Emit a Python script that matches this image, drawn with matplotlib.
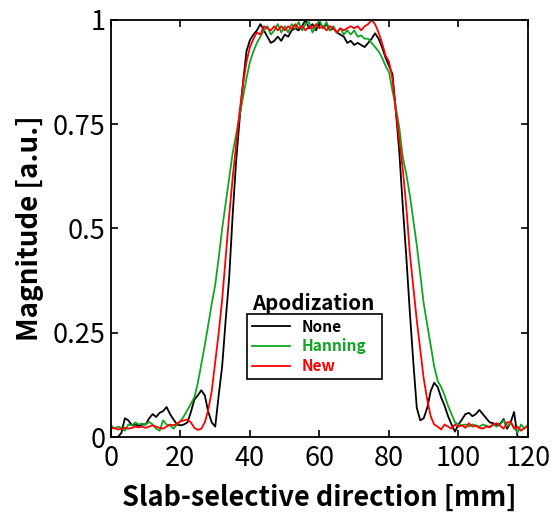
import numpy as np
import matplotlib
matplotlib.use('Agg')
import matplotlib.pyplot as plt

plt.rcParams['font.family'] = ['Noto Sans CJK KR', 'DejaVu Sans']

# --- データ (1 mm 刻み) ------------------------------------------------
position_mm = list(range(0, 121))

none_mag = [
    0.00, 0.00, 0.00, 0.01, 0.045, 0.04, 0.028, 0.03, 0.027, 0.03,
    0.03, 0.045, 0.055, 0.048, 0.058, 0.062, 0.072, 0.055, 0.042, 0.03,
    0.028, 0.03, 0.035, 0.06, 0.09, 0.10, 0.112, 0.10, 0.06, 0.035,
    0.025, 0.10, 0.17, 0.28, 0.38, 0.53, 0.66, 0.76, 0.85, 0.925,
    0.952, 0.965, 0.975, 0.99, 0.975, 0.96, 0.945, 0.95, 0.96, 0.95,
    0.965, 0.96, 0.975, 0.98, 0.975, 0.985, 1.00, 0.98, 0.99, 0.975,
    0.995, 0.98, 0.99, 0.975, 0.98, 0.97, 0.965, 0.96, 0.945, 0.95,
    0.94, 0.945, 0.94, 0.935, 0.945, 0.955, 0.968, 0.955, 0.935, 0.91,
    0.89, 0.87, 0.78, 0.68, 0.55, 0.43, 0.30, 0.18, 0.07, 0.04,
    0.045, 0.07, 0.11, 0.13, 0.12, 0.095, 0.075, 0.05, 0.03, 0.013,
    0.03, 0.042, 0.055, 0.058, 0.05, 0.055, 0.065, 0.055, 0.045, 0.035,
    0.033, 0.028, 0.032, 0.043, 0.02, 0.035, 0.06, 0.00, 0.00, 0.00,
    0.00,
]

hanning_mag = [
    0.028, 0.02, 0.025, 0.022, 0.015, 0.03, 0.028, 0.035, 0.03, 0.032,
    0.03, 0.036, 0.03, 0.02, 0.015, 0.04, 0.03, 0.028, 0.02, 0.03,
    0.038, 0.05, 0.065, 0.08, 0.095, 0.13, 0.175, 0.22, 0.27, 0.32,
    0.365, 0.43, 0.50, 0.56, 0.62, 0.68, 0.725, 0.77, 0.815, 0.86,
    0.90, 0.925, 0.945, 0.96, 0.975, 0.985, 0.965, 0.975, 0.99, 0.97,
    0.985, 0.97, 0.99, 0.98, 0.995, 0.975, 0.99, 0.995, 0.97, 0.985,
    1.00, 0.98, 0.995, 0.975, 0.985, 0.97, 0.98, 0.965, 0.975, 0.965,
    0.975, 0.96, 0.963, 0.955, 0.955, 0.945, 0.935, 0.925, 0.91, 0.89,
    0.875, 0.83, 0.79, 0.74, 0.67, 0.63, 0.58, 0.52, 0.46, 0.39,
    0.32, 0.27, 0.22, 0.17, 0.135, 0.12, 0.10, 0.075, 0.055, 0.035,
    0.03, 0.028, 0.03, 0.025, 0.03, 0.028, 0.025, 0.03, 0.027, 0.025,
    0.03, 0.025, 0.03, 0.04, 0.025, 0.035, 0.025, 0.01, 0.03, 0.02,
    0.03,
]

new_mag = [
    0.02, 0.022, 0.018, 0.02, 0.022, 0.02, 0.022, 0.025, 0.023, 0.025,
    0.022, 0.025, 0.028, 0.025, 0.022, 0.02, 0.025, 0.03, 0.028, 0.032,
    0.038, 0.04, 0.042, 0.035, 0.022, 0.017, 0.02, 0.035, 0.065, 0.11,
    0.18, 0.25, 0.33, 0.43, 0.53, 0.62, 0.70, 0.78, 0.845, 0.90,
    0.935, 0.955, 0.97, 0.965, 0.985, 0.98, 0.975, 0.985, 0.975, 0.985,
    0.975, 0.985, 0.978, 0.99, 0.98, 0.985, 0.975, 0.985, 0.98, 0.99,
    0.98, 0.985, 0.975, 0.985, 0.98, 0.97, 0.98, 0.975, 0.98, 0.985,
    0.98, 0.985, 0.975, 0.985, 0.99, 1.00, 0.99, 0.97, 0.945, 0.915,
    0.90, 0.86, 0.78, 0.71, 0.64, 0.55, 0.44, 0.36, 0.28, 0.21,
    0.14, 0.09, 0.05, 0.03, 0.025, 0.018, 0.03, 0.025, 0.02, 0.03,
    0.025, 0.028, 0.022, 0.033, 0.025, 0.027, 0.022, 0.02, 0.025, 0.023,
    0.03, 0.033, 0.027, 0.02, 0.035, 0.037, 0.02, 0.025, 0.015, 0.022,
    0.025,
]

series_labels = ['None', 'Hanning', 'New']
series_colors = ['black', '#12a525', '#ff0000']

x_ticks = [0, 20, 40, 60, 80, 100, 120]
y_ticks = [0, 0.25, 0.5, 0.75, 1]
y_tick_labels = ['0', '0.25', '0.5', '0.75', '1']

# --- 描画 ---------------------------------------------------------------
fig = plt.figure(figsize=(5.56, 5.13), dpi=100)
ax = fig.add_axes([0.1996, 0.1481, 0.75, 0.813])

for mag, lab, col in zip([none_mag, hanning_mag, new_mag], series_labels, series_colors):
    ax.plot(position_mm, mag, color=col, lw=1.3, label=lab)

ax.set_xlim(0, 120)
ax.set_ylim(0, 1)
ax.set_xticks(x_ticks)
ax.set_yticks(y_ticks)
ax.set_yticklabels(y_tick_labels)
ax.tick_params(direction='in', length=5, width=1.2, top=True, right=True,
               labelsize=19.5)
ax.tick_params(axis='x', pad=6)
ax.tick_params(axis='y', pad=4)
for lbl in ax.get_xticklabels() + ax.get_yticklabels():
    lbl.set_fontweight('light')
for sp in ax.spines.values():
    sp.set_linewidth(1.3)

ax.set_xlabel('Slab-selective direction [mm]', fontsize=19.5, fontweight='bold', labelpad=8)
ax.set_ylabel('Magnitude [a.u.]', fontsize=20, fontweight='bold', labelpad=6)

leg = ax.legend(loc='lower left', bbox_to_anchor=(0.326, 0.139, 0.324, 0.149),
                mode='expand', fancybox=False, edgecolor='black', framealpha=1,
                prop={'weight': 'bold', 'size': 11.2}, handlelength=2.5,
                borderaxespad=0, labelspacing=0.25, handletextpad=0.7,
                borderpad=0.3)
leg.get_frame().set_linewidth(1.2)
for txt, col in zip(leg.get_texts(), series_colors):
    txt.set_color(col)
ax.text(0.484, 0.321, 'Apodization', transform=ax.transAxes, ha='center',
        va='center', fontsize=14.8, fontweight='bold')

fig.savefig('out.png', dpi=100)
